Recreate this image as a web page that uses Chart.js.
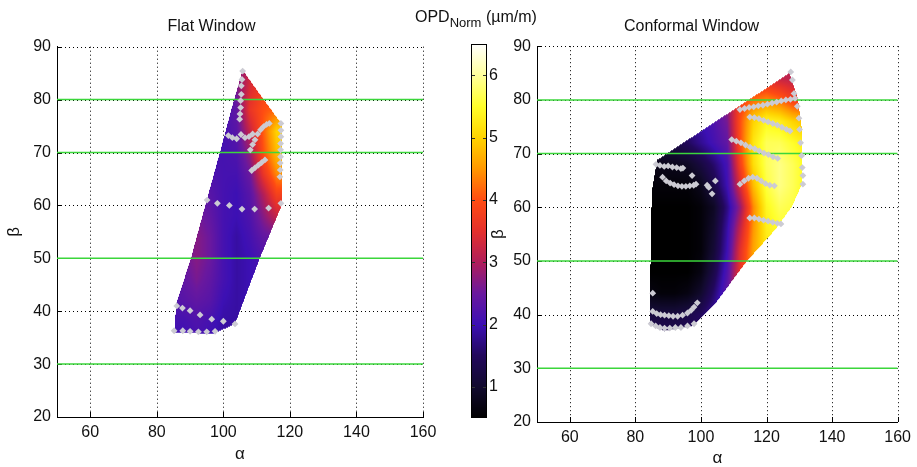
<!DOCTYPE html>
<html>
<head>
<meta charset="utf-8">
<script src="https://cdn.jsdelivr.net/npm/chart.js@4.4.0/dist/chart.umd.min.js"></script>
<style>
  body { margin: 0; background: #fff; }
  #wrap { position: relative; width: 917px; height: 467px; overflow: hidden; font-family: "Liberation Sans", Arial, sans-serif; color: #111; }
  canvas { position: absolute; top: 0; }
  #cbTitle { position: absolute; left: 415px; top: 8px; font-size: 16px; white-space: nowrap; }
  #cbTitle sub { font-size: 13px; vertical-align: -5px; }
</style>
</head>
<body>
<div id="wrap">
  <canvas id="flat" width="460" height="467" style="left:0px"></canvas>
  <canvas id="conf" width="437" height="467" style="left:480px"></canvas>
  <canvas id="cbar" width="80" height="467" style="left:440px"></canvas>
  <div id="cbTitle">OPD<sub>Norm</sub> (&micro;m/m)</div>
</div>
<script>
// axes
const alphaTicks = [60, 80, 100, 120, 140, 160];
const betaTicks = [20, 30, 40, 50, 60, 70, 80, 90];
const opdTicks = [1, 2, 3, 4, 5, 6];
const limitBetas = [30, 50, 70, 80];

// colour map of the OPD scale (value -> colour)
const opdStops = [0.5, 1.0, 1.5, 2.0, 2.5, 3.0, 3.5, 4.0, 4.5, 5.0, 5.5, 6.0, 6.5];
const opdColors = ['#000000', '#120a2e', '#22085c', '#3c10b4', '#6a189e', '#b01e5a', '#e4302c', '#ff4c12',
                   '#ff9800', '#ffd400', '#ffff2a', '#ffff9c', '#ffffff'];

// ---- Flat window ----
const flatAlpha = [84, 88, 92, 96, 100, 104, 108, 112, 116, 120];
const flatBeta = [34, 38, 42, 46, 50, 54, 58, 62, 66, 70, 74, 78, 82, 86];
const flatOpd = [
  [2.0, 2.0, 2.1, 2.0, 1.9, 1.9, 2.0, 2.0, 2.0, 2.0],
  [2.1, 2.1, 2.2, 2.1, 1.9, 1.9, 2.0, 2.0, 2.0, 2.0],
  [2.2, 2.3, 2.4, 2.3, 2.0, 1.9, 2.0, 2.0, 2.0, 2.0],
  [2.3, 2.4, 2.6, 2.4, 2.1, 1.9, 2.0, 2.1, 2.1, 2.1],
  [2.3, 2.5, 2.7, 2.5, 2.1, 1.9, 2.0, 2.2, 2.2, 2.2],
  [2.3, 2.5, 2.7, 2.5, 2.1, 1.9, 2.1, 2.4, 2.5, 2.5],
  [2.3, 2.4, 2.6, 2.4, 2.1, 2.0, 2.2, 2.7, 3.2, 3.2],
  [2.2, 2.3, 2.4, 2.3, 2.1, 2.0, 2.3, 3.0, 3.8, 3.8],
  [2.2, 2.2, 2.3, 2.2, 2.1, 2.1, 2.5, 3.6, 4.4, 4.6],
  [2.2, 2.2, 2.2, 2.1, 2.1, 2.2, 2.8, 4.0, 4.8, 5.0],
  [2.2, 2.2, 2.2, 2.1, 2.1, 2.3, 3.2, 4.1, 5.0, 5.0],
  [2.2, 2.2, 2.2, 2.1, 2.1, 2.4, 3.6, 4.0, 4.2, 4.2],
  [2.2, 2.2, 2.2, 2.1, 2.1, 2.6, 3.4, 3.8, 3.8, 3.8],
  [2.2, 2.2, 2.2, 2.1, 2.2, 2.6, 3.2, 3.5, 3.5, 3.5]
];
const flatEdgeAlpha = [105.8, 112.1, 117.3, 117.6, 117.6, 111.0, 103.5, 100.0, 97.0, 85.3, 85.8, 90.3, 95.0, 99.0, 102.7];
const flatEdgeBeta = [85.6, 80.0, 75.6, 75.0, 60.1, 50.1, 37.6, 36.6, 35.8, 35.9, 41.3, 50.1, 61.0, 70.1, 78.8];
const flatPtAlpha = [
  105.8, 105.6, 105.4, 105.4, 105.2, 105.2, 105.0, 104.9,
  101.5, 102.7, 104.0, 105.3, 106.5, 107.7, 108.8,
  108.1, 108.8, 109.5, 110.3, 111.2, 112.1, 113.0, 113.8,
  108.5, 109.5, 110.5, 111.5, 112.5,
  117.3, 117.3, 117.3, 117.2, 117.2, 117.2, 117.1, 117.1, 117.0,
  95.1, 98.2, 101.8, 105.6, 109.4, 113.6, 117.3,
  86.0, 87.7, 90.0, 93.0, 96.5, 100.0, 103.5,
  85.2, 87.8, 90.0, 92.5, 95.0, 97.5
];
const flatPtBeta = [
  85.4, 83.8, 82.6, 81.0, 79.8, 78.5, 77.3, 76.3,
  73.2, 72.8, 72.6, 73.4, 72.8, 73.0, 73.5,
  70.5, 71.5, 72.4, 73.5, 74.3, 74.9, 75.3, 75.5,
  66.6, 67.1, 67.6, 68.1, 68.6,
  75.5, 74.2, 73.0, 71.7, 70.5, 69.2, 68.0, 66.7, 65.4,
  61.0, 60.4, 60.0, 59.3, 59.3, 59.5, 60.4,
  41.0, 40.6, 40.1, 39.3, 38.5, 38.1, 37.6,
  36.3, 36.3, 36.2, 36.1, 36.1, 36.2
];

// ---- Conformal window ----
const confAlpha = [84, 88, 92, 96, 100, 104, 108, 112, 116, 120, 124, 128, 132];
const confBeta = [36, 40, 44, 48, 52, 56, 60, 64, 68, 72, 76, 80, 84];
const confOpd = [
  [1.4, 1.4, 1.4, 1.5, 1.6, 2.0, 2.5, 3.3, 4.0, 4.5, 4.6, 4.6, 4.6],
  [1.2, 1.2, 1.2, 1.3, 1.5, 1.9, 2.5, 3.5, 4.3, 4.7, 4.8, 4.8, 4.8],
  [0.7, 0.6, 0.6, 0.7, 1.0, 1.6, 2.4, 3.6, 4.5, 4.9, 5.0, 5.0, 5.0],
  [0.5, 0.5, 0.5, 0.5, 0.7, 1.3, 2.2, 3.6, 4.6, 5.0, 5.2, 5.2, 5.2],
  [0.5, 0.5, 0.5, 0.5, 0.6, 1.1, 2.0, 3.5, 4.6, 5.2, 5.4, 5.4, 5.4],
  [0.5, 0.5, 0.5, 0.5, 0.6, 1.0, 1.9, 3.2, 4.5, 5.3, 5.5, 5.5, 5.4],
  [0.5, 0.5, 0.5, 0.5, 0.6, 0.9, 1.7, 2.8, 4.4, 5.4, 5.7, 5.6, 5.4],
  [0.6, 0.6, 0.6, 0.6, 0.8, 1.3, 2.0, 3.4, 4.8, 5.6, 5.9, 5.7, 5.4],
  [0.8, 0.8, 0.8, 0.9, 1.2, 1.6, 2.1, 3.8, 5.1, 5.7, 5.9, 5.7, 5.4],
  [1.2, 1.2, 1.3, 1.5, 1.8, 2.1, 2.4, 4.0, 5.2, 5.7, 5.7, 5.5, 5.3],
  [1.6, 1.6, 1.7, 1.8, 2.0, 2.2, 2.6, 4.0, 5.0, 5.4, 5.3, 5.0, 4.8],
  [2.0, 2.0, 2.0, 2.1, 2.2, 2.4, 2.8, 3.8, 4.2, 4.4, 4.2, 3.8, 3.6],
  [2.2, 2.2, 2.2, 2.2, 2.3, 2.5, 2.8, 3.3, 3.5, 3.4, 3.2, 3.1, 3.1]
];
const confEdgeAlpha = [86.6, 127.0, 129.5, 130.8, 130.8, 127.9, 122.9, 113.9, 104.9, 100.4, 97.9, 88.9, 84.3, 85.0];
const confEdgeBeta = [68.8, 85.0, 80.5, 74.5, 64.3, 60.3, 56.0, 49.9, 42.5, 39.7, 38.0, 37.0, 38.2, 62.8];
const confPtAlpha = [
  86.3, 87.5, 88.8, 90.0, 91.3, 92.6, 93.9, 94.5,
  88.3, 89.4, 90.6, 91.8, 93.0, 94.2, 95.4, 96.6, 97.8, 98.5,
  97.3, 101.9, 104.4, 103.4, 102.4,
  85.3,
  85.3, 86.5, 87.7, 88.9, 90.2, 91.5, 92.9, 94.4, 95.9, 97.0, 97.9, 98.9,
  84.8, 86.2, 87.5, 88.9, 90.5, 92.2, 93.9, 95.9, 97.9,
  111.9, 113.3, 114.7, 116.1, 117.5, 118.9, 120.3, 121.7, 123.1, 124.5, 125.9, 127.3, 128.7,
  114.9, 116.3, 117.7, 119.1, 120.5, 121.9, 123.3, 124.7, 126.1, 127.2,
  109.4, 110.8, 112.2, 113.6, 115.0, 116.4, 117.8, 119.2, 120.6, 122.0, 123.4,
  111.9, 113.2, 114.5, 115.8, 117.1, 118.4, 119.7, 121.0, 122.4,
  114.9, 116.3, 117.7, 119.1, 120.5, 121.9, 123.3, 124.4,
  127.4, 127.9, 128.4, 129.4, 129.9, 130.1, 130.4, 130.7, 130.9, 131.1, 131.1
];
const confPtBeta = [
  68.0, 67.8, 67.6, 67.7, 67.5, 67.4, 67.2, 67.3,
  65.6, 64.9, 64.5, 64.2, 64.0, 63.9, 63.9, 64.0, 64.1, 64.3,
  65.9, 64.1, 64.9, 62.5, 63.7,
  44.0,
  40.6, 40.2, 40.0, 39.9, 39.8, 39.7, 39.7, 39.9, 40.3, 40.8, 41.4, 42.2,
  38.3, 37.9, 37.6, 37.5, 37.5, 37.6, 37.6, 37.9, 38.3,
  78.2, 78.4, 78.6, 78.7, 78.9, 79.0, 79.2, 79.4, 79.6, 79.8, 80.0, 80.1, 80.3,
  76.8, 76.7, 76.5, 76.2, 75.9, 75.6, 75.3, 74.9, 74.5, 74.2,
  72.6, 72.3, 72.0, 71.6, 71.2, 70.9, 70.5, 70.1, 69.8, 69.4, 69.1,
  64.3, 64.9, 65.4, 65.6, 65.4, 64.9, 64.4, 64.1, 64.0,
  58.0, 58.0, 57.8, 57.6, 57.4, 57.2, 57.0, 56.9,
  85.2, 83.7, 81.2, 78.8, 76.6, 74.5, 72.0, 69.6, 67.4, 65.9, 64.3
];

const FONT = '"Liberation Sans", Arial, sans-serif';
const INK = '#111';

function hexRgb(h) {
  return [parseInt(h.slice(1, 3), 16), parseInt(h.slice(3, 5), 16), parseInt(h.slice(5, 7), 16)];
}
const opdRgb = opdColors.map(hexRgb);

function opdColor(v) {
  if (v <= opdStops[0]) return opdRgb[0];
  const n = opdStops.length - 1;
  if (v >= opdStops[n]) return opdRgb[n];
  let i = 0;
  while (v > opdStops[i + 1]) i++;
  const t = (v - opdStops[i]) / (opdStops[i + 1] - opdStops[i]);
  const a = opdRgb[i], b = opdRgb[i + 1];
  return [a[0] + (b[0] - a[0]) * t, a[1] + (b[1] - a[1]) * t, a[2] + (b[2] - a[2]) * t];
}

function findCell(nodes, v) {
  if (v <= nodes[0]) return [0, 0];
  const n = nodes.length - 1;
  if (v >= nodes[n]) return [n - 1, 1];
  let i = 0;
  while (v > nodes[i + 1]) i++;
  return [i, (v - nodes[i]) / (nodes[i + 1] - nodes[i])];
}

function sampleOpd(s, a, b) {
  const [i, tx] = findCell(s.alpha, a);
  const [j, ty] = findCell(s.beta, b);
  const g = s.opd;
  const top = g[j][i] * (1 - tx) + g[j][i + 1] * tx;
  const bot = g[j + 1][i] * (1 - tx) + g[j + 1][i + 1] * tx;
  return top * (1 - ty) + bot * ty;
}

function insidePoly(xs, ys, px, py) {
  let inside = false;
  for (let i = 0, j = xs.length - 1; i < xs.length; j = i++) {
    if (((ys[i] > py) !== (ys[j] > py)) &&
        (px < (xs[j] - xs[i]) * (py - ys[i]) / (ys[j] - ys[i]) + xs[i])) inside = !inside;
  }
  return inside;
}

// dotted grid + surface, drawn under the datasets
function surfacePlugin(s) {
  return {
    id: 'surface',
    beforeDatasetsDraw(chart) {
      const {ctx, chartArea: area, scales: {x, y}} = chart;
      ctx.save();
      ctx.strokeStyle = '#000';
      ctx.lineWidth = 1;
      ctx.setLineDash([1, 3]);
      alphaTicks.forEach(t => {
        const px = Math.round(x.getPixelForValue(t)) + 0.5;
        ctx.beginPath(); ctx.moveTo(px, area.top); ctx.lineTo(px, area.bottom); ctx.stroke();
      });
      betaTicks.forEach(t => {
        const py = Math.round(y.getPixelForValue(t)) + 0.5;
        ctx.beginPath(); ctx.moveTo(area.left, py); ctx.lineTo(area.right, py); ctx.stroke();
      });
      ctx.setLineDash([]);
      alphaTicks.forEach(t => {
        const px = Math.round(x.getPixelForValue(t)) + 0.5;
        ctx.beginPath(); ctx.moveTo(px, area.bottom); ctx.lineTo(px, area.bottom - 5); ctx.stroke();
      });
      betaTicks.forEach(t => {
        const py = Math.round(y.getPixelForValue(t)) + 0.5;
        ctx.beginPath(); ctx.moveTo(area.left, py); ctx.lineTo(area.left + 5, py); ctx.stroke();
      });
      ctx.restore();

      const w = Math.ceil(area.right - area.left), h = Math.ceil(area.bottom - area.top);
      const off = document.createElement('canvas');
      off.width = w; off.height = h;
      const octx = off.getContext('2d');
      const img = octx.createImageData(w, h);
      for (let py = 0; py < h; py++) {
        const b = y.getValueForPixel(area.top + py + 0.5);
        for (let px = 0; px < w; px++) {
          const a = x.getValueForPixel(area.left + px + 0.5);
          if (!insidePoly(s.edgeAlpha, s.edgeBeta, a, b)) continue;
          const c = opdColor(sampleOpd(s, a, b));
          const k = (py * w + px) * 4;
          img.data[k] = c[0]; img.data[k + 1] = c[1]; img.data[k + 2] = c[2]; img.data[k + 3] = 255;
        }
      }
      octx.putImageData(img, 0, 0);
      ctx.drawImage(off, area.left, area.top);
    }
  };
}

function makePanel(id, title, s, lay) {
  const fixTicks = list => sc => { sc.ticks = list.map(v => ({value: v})); };
  return new Chart(document.getElementById(id), {
    type: 'scatter',
    data: {
      datasets: [
        {
          data: s.ptAlpha.map((a, i) => ({x: a, y: s.ptBeta[i]})),
          pointStyle: 'rectRot', pointRadius: 3.4, pointHoverRadius: 3.4,
          backgroundColor: '#cccbd3', borderWidth: 0
        },
        ...limitBetas.map(b => ({
          type: 'line', data: [{x: 50, y: b}, {x: 160, y: b}],
          borderColor: '#3bd63b', borderWidth: 1.5, pointRadius: 0
        }))
      ]
    },
    options: {
      responsive: false,
      animation: false,
      events: [],
      layout: {padding: {left: 0, right: lay.right, top: 0, bottom: 0}},
      plugins: {
        legend: {display: false},
        tooltip: {enabled: false},
        title: {
          display: true, text: title, color: INK,
          font: {family: FONT, size: 16, weight: 'normal'},
          padding: {top: 16.5, bottom: lay.titleBottom}
        }
      },
      scales: {
        x: {
          type: 'linear', min: 50, max: 160,
          afterBuildTicks: fixTicks(alphaTicks),
          afterFit: sc => { sc.height = lay.xHeight; },
          grid: {display: false, drawTicks: false},
          border: {color: '#000', width: 1},
          ticks: {color: INK, font: {family: FONT, size: 16}, padding: 6, maxRotation: 0, autoSkip: false},
          title: {display: true, text: 'α', color: INK, font: {family: FONT, size: 17, lineHeight: 1},
                  padding: {top: 0, bottom: lay.alphaPad}}
        },
        y: {
          type: 'linear', min: 20, max: 90,
          afterBuildTicks: fixTicks(betaTicks),
          afterFit: sc => { sc.width = lay.yWidth; },
          grid: {display: false, drawTicks: false},
          border: {color: '#000', width: 1},
          ticks: {color: INK, font: {family: FONT, size: 16}, padding: 6, autoSkip: false},
          title: {display: true, text: 'β', color: INK, font: {family: FONT, size: 17, lineHeight: 1},
                  padding: {top: lay.betaPad, bottom: 0}}
        }
      }
    },
    plugins: [surfacePlugin(s)]
  });
}

makePanel('flat', 'Flat Window', {
  alpha: flatAlpha, beta: flatBeta, opd: flatOpd,
  edgeAlpha: flatEdgeAlpha, edgeBeta: flatEdgeBeta,
  ptAlpha: flatPtAlpha, ptBeta: flatPtBeta
}, {right: 37, titleBottom: 11, xHeight: 50, yWidth: 57, alphaPad: 4.5, betaPad: 5.5});

makePanel('conf', 'Conformal Window', {
  alpha: confAlpha, beta: confBeta, opd: confOpd,
  edgeAlpha: confEdgeAlpha, edgeBeta: confEdgeBeta,
  ptAlpha: confPtAlpha, ptBeta: confPtBeta
}, {right: 14, titleBottom: 10.5, xHeight: 45, yWidth: 57, alphaPad: 0, betaPad: 9.5});

// colour bar
const colorbarPlugin = {
  id: 'colorbar',
  beforeDatasetsDraw(chart) {
    const {ctx, chartArea: area, scales: {y}} = chart;
    for (let py = Math.round(area.top); py < Math.round(area.bottom); py++) {
      const c = opdColor(y.getValueForPixel(py + 0.5));
      ctx.fillStyle = 'rgb(' + c.map(Math.round).join(',') + ')';
      ctx.fillRect(area.left, py, area.right - area.left, 1);
    }
    ctx.save();
    ctx.strokeStyle = '#000';
    ctx.lineWidth = 1;
    ctx.strokeRect(Math.round(area.left) + 0.5, Math.round(area.top) + 0.5,
                   Math.round(area.right - area.left) - 1, Math.round(area.bottom - area.top) - 1);
    ctx.strokeStyle = '#333';
    opdTicks.forEach(t => {
      const py = Math.round(y.getPixelForValue(t)) + 0.5;
      ctx.beginPath(); ctx.moveTo(area.left + 1, py); ctx.lineTo(area.left + 4, py); ctx.stroke();
      ctx.beginPath(); ctx.moveTo(area.right - 1, py); ctx.lineTo(area.right - 4, py); ctx.stroke();
    });
    ctx.restore();
  }
};

new Chart(document.getElementById('cbar'), {
  type: 'scatter',
  data: {datasets: []},
  options: {
    responsive: false,
    animation: false,
    events: [],
    layout: {padding: {left: 31, right: 0, top: 44, bottom: 49}},
    plugins: {legend: {display: false}, tooltip: {enabled: false}},
    scales: {
      x: {display: false, min: 0, max: 1},
      y: {
        position: 'right', min: 0.5, max: 6.5,
        afterBuildTicks: sc => { sc.ticks = opdTicks.map(v => ({value: v})); },
        afterFit: sc => { sc.width = 33; },
        grid: {display: false, drawTicks: false},
        border: {display: false},
        ticks: {color: INK, font: {family: FONT, size: 16}, padding: 2, autoSkip: false}
      }
    }
  },
  plugins: [colorbarPlugin]
});
</script>
</body>
</html>
